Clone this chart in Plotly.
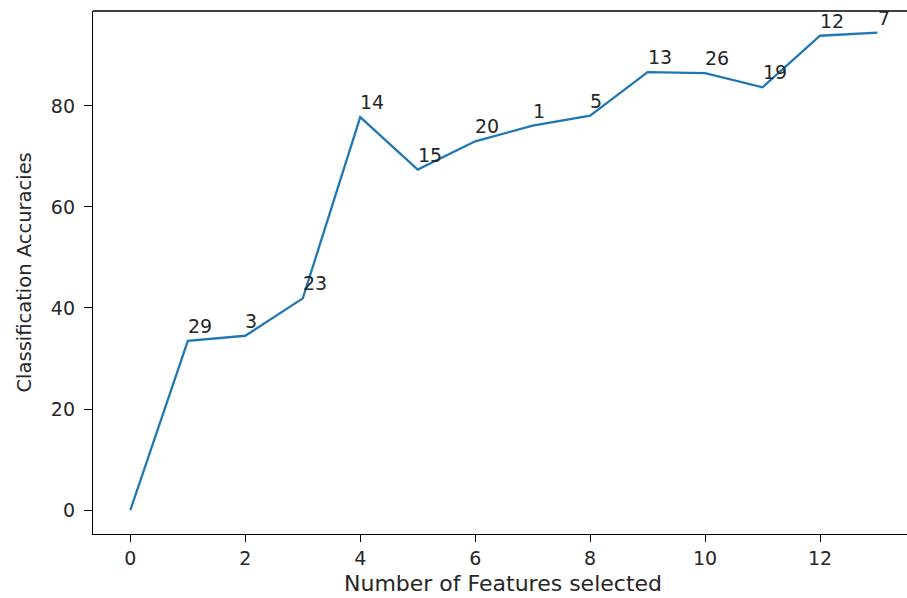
import plotly.graph_objects as go

# Number of features selected vs. classification accuracy
n_features = list(range(14))
accuracies = [0.0, 33.5, 34.5, 41.9, 77.8, 67.4, 73.0, 76.1, 78.1, 86.7, 86.5, 83.7, 93.9, 94.5]
# Feature index added at each step (none for the empty set)
feature_ids = [None, "29", "3", "23", "14", "15", "20", "1", "5", "13", "26", "19", "12", "7"]

x_ticks = [0, 2, 4, 6, 8, 10, 12]
y_ticks = [0, 20, 40, 60, 80]

W, H = 907, 598
ML, MR, MT, MB = 93, 0, 11, 64
TXT = "#262626"

fig = go.Figure()
fig.add_trace(go.Scatter(
    x=n_features, y=accuracies, mode="lines",
    line=dict(color="#1f77b4", width=2.3),
    showlegend=False, hoverinfo="skip",
))

for xv, yv, lab in zip(n_features, accuracies, feature_ids):
    if lab is None:
        continue
    fig.add_annotation(
        x=xv, y=yv, text=lab, showarrow=False,
        xanchor="left", yanchor="bottom", xshift=-2, yshift=2,
        font=dict(family="DejaVu Sans", size=19, color=TXT),
    )

tick_font = dict(family="DejaVu Sans", size=19, color=TXT)
fig.update_layout(
    width=W, height=H,
    margin=dict(l=ML, r=MR, t=MT, b=MB),
    paper_bgcolor="white", plot_bgcolor="white",
    xaxis=dict(
        range=[-0.65, 13.513], tickvals=x_ticks, ticktext=[str(v) for v in x_ticks],
        showgrid=False, zeroline=False, showline=True, linecolor="black", linewidth=1.3,
        ticks="outside", ticklen=7, tickwidth=1.3, tickcolor="black",
        tickfont=tick_font, ticklabelstandoff=0,
    ),
    yaxis=dict(
        range=[-4.75, 98.8], tickvals=y_ticks, ticktext=[str(v) for v in y_ticks],
        showgrid=False, zeroline=False, showline=True, linecolor="black", linewidth=1.3,
        ticks="outside", ticklen=8, tickwidth=1.3, tickcolor="black",
        tickfont=tick_font, ticklabelstandoff=5,
    ),
)

# axis titles
fig.add_annotation(
    xref="paper", yref="paper", x=(502.5 - ML) / (W - ML - MR), y=0,
    xanchor="center", yanchor="middle", yshift=-49, showarrow=False,
    text="Number of Features selected",
    font=dict(family="DejaVu Sans", size=22, color=TXT),
)
fig.add_annotation(
    xref="paper", yref="paper", x=0, y=0.5,
    xanchor="center", yanchor="middle", xshift=24 - ML, showarrow=False,
    textangle=-90, text="Classification Accuracies",
    font=dict(family="DejaVu Sans", size=19.5, color=TXT),
)

# top spine
fig.add_shape(type="line", xref="paper", yref="paper", x0=0, x1=1, y0=1, y1=1,
              line=dict(color="black", width=1.3))

fig.write_html("out.html")
